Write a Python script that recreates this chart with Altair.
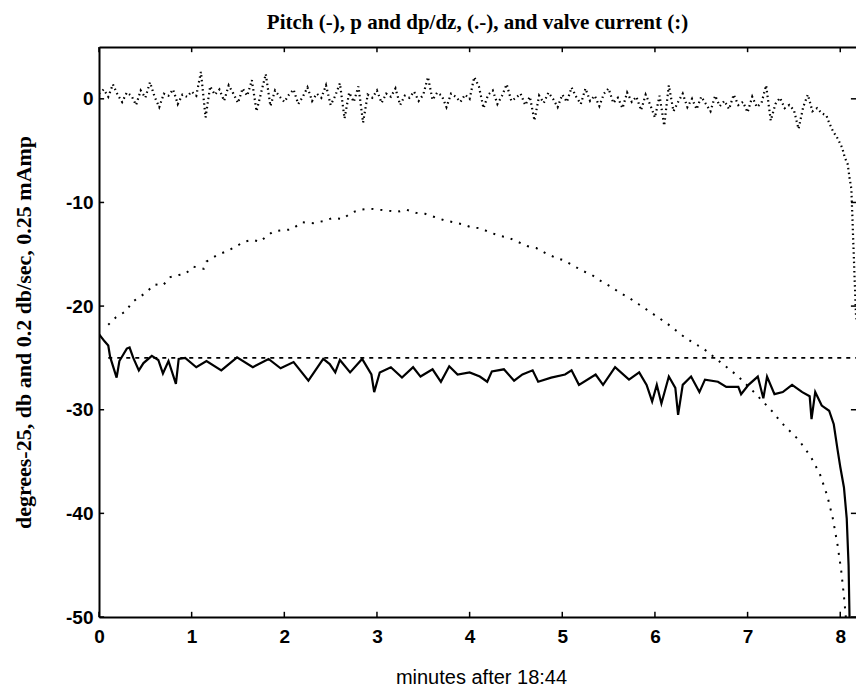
import altair as alt
import pandas as pd

# ---- Pitch (-): degrees - 25 ----
pitch_x = [0.00, 0.06, 0.10, 0.12, 0.19, 0.22, 0.30, 0.33, 0.37, 0.43, 0.48, 0.57, 0.64, 0.69,
           0.75, 0.83, 0.86, 0.93, 1.05, 1.16, 1.32, 1.49, 1.66, 1.83, 1.96, 2.10, 2.26, 2.42,
           2.49, 2.55, 2.60, 2.71, 2.84, 2.94, 2.97, 3.03, 3.15, 3.27, 3.39, 3.47, 3.60, 3.69,
           3.78, 3.87, 4.00, 4.11, 4.19, 4.24, 4.37, 4.48, 4.57, 4.68, 4.74, 4.88, 5.03, 5.10,
           5.18, 5.36, 5.44, 5.57, 5.72, 5.83, 5.91, 5.97, 6.02, 6.07, 6.15, 6.22, 6.25, 6.30,
           6.39, 6.48, 6.54, 6.68, 6.77, 6.90, 6.93, 7.01, 7.11, 7.17, 7.21, 7.29, 7.38, 7.48,
           7.59, 7.67, 7.69, 7.73, 7.80, 7.88, 7.93, 7.97, 8.00, 8.04, 8.07, 8.09, 8.10]
pitch_y = [-22.7, -23.4, -23.8, -24.9, -26.9, -25.3, -24.1, -24.0, -25.0, -26.2, -25.5, -24.8, -25.2, -26.5,
           -25.3, -27.5, -25.1, -25.0, -25.9, -25.3, -26.2, -24.95, -25.9, -25.1, -26.0, -25.4, -27.2, -25.1,
           -25.6, -26.4, -25.2, -26.4, -25.1, -26.6, -28.3, -26.4, -25.9, -26.9, -25.9, -26.8, -26.1, -27.3,
           -25.8, -26.6, -26.4, -26.8, -27.3, -26.3, -26.1, -27.2, -26.6, -26.2, -27.3, -26.9, -26.6, -26.2,
           -27.6, -26.6, -27.6, -25.9, -27.1, -26.4, -27.6, -29.2, -27.6, -29.4, -26.8, -27.9, -30.5, -27.6,
           -26.8, -28.3, -27.1, -27.3, -27.8, -27.8, -28.5, -27.6, -26.8, -28.9, -26.8, -28.5, -28.3, -27.6,
           -28.3, -28.7, -30.9, -28.3, -29.6, -30.1, -31.4, -33.8, -35.5, -37.5, -40.5, -45.0, -50.0]

# ---- p (db), drawn (.-) ----
p_x = [0.10, 0.18, 0.29, 0.36, 0.46, 0.53, 0.60, 0.69, 0.77, 0.86, 0.93, 1.02, 1.13, 1.16, 1.27,
       1.38, 1.47, 1.56, 1.66, 1.74, 1.79, 1.88, 1.97, 2.08, 2.19, 2.31, 2.42, 2.52, 2.63, 2.72,
       2.82, 2.92, 3.02, 3.12, 3.22, 3.32, 3.42, 3.52, 3.62, 3.72, 3.82, 3.92, 4.02, 4.12, 4.22,
       4.32, 4.42, 4.52, 4.62, 4.72, 4.82, 4.92, 5.02, 5.12, 5.22, 5.32, 5.42, 5.52, 5.62, 5.72,
       5.82, 5.92, 6.02, 6.12, 6.22, 6.32, 6.44, 6.51, 6.62, 6.79, 6.90, 7.08, 7.27, 7.36, 7.45,
       7.55, 7.68, 7.78, 7.86, 7.92, 7.97, 8.01, 8.04, 8.06]
p_y = [-21.8, -21.1, -20.5, -19.6, -19.0, -18.5, -17.9, -18.0, -17.2, -17.0, -16.9, -16.2, -16.4, -15.7, -15.1,
       -14.7, -14.3, -13.8, -13.6, -13.8, -13.4, -12.8, -12.7, -12.6, -11.9, -12.0, -11.8, -11.5, -11.6, -11.0,
       -10.7, -10.6, -10.7, -10.8, -10.9, -10.7, -11.0, -11.1, -11.4, -11.7, -11.9, -12.1, -12.4, -12.5, -12.9,
       -13.2, -13.4, -13.8, -14.2, -14.4, -14.9, -15.3, -15.6, -16.1, -16.6, -17.0, -17.6, -18.1, -18.7, -19.2,
       -19.8, -20.4, -21.0, -21.6, -22.3, -23.0, -23.7, -24.0, -24.8, -26.0, -26.8, -28.4, -30.2, -31.2, -32.0,
       -32.9, -34.5, -36.2, -38.3, -40.5, -43.0, -45.5, -48.0, -50.0]

# ---- dp/dz ----
dpdz_x = [0.10, 8.26]
dpdz_y = [-25.0, -25.0]

# ---- valve current (:) ----
valve_x = [0.00, 0.05, 0.10, 0.15, 0.20, 0.25, 0.30, 0.35, 0.40, 0.45, 0.50,
           0.55, 0.60, 0.65, 0.70, 0.75, 0.80, 0.85, 0.90, 0.95, 1.00,
           1.05, 1.10, 1.15, 1.20, 1.25, 1.30, 1.35, 1.40, 1.45, 1.50,
           1.55, 1.60, 1.65, 1.70, 1.75, 1.80, 1.85, 1.90, 1.95, 2.00,
           2.05, 2.10, 2.15, 2.20, 2.25, 2.30, 2.35, 2.40, 2.45, 2.50,
           2.55, 2.60, 2.65, 2.70, 2.75, 2.80, 2.85, 2.90, 2.95, 3.00,
           3.05, 3.10, 3.15, 3.20, 3.25, 3.30, 3.35, 3.40, 3.45, 3.50,
           3.55, 3.60, 3.65, 3.70, 3.75, 3.80, 3.85, 3.90, 3.95, 4.00,
           4.05, 4.10, 4.15, 4.20, 4.25, 4.30, 4.35, 4.40, 4.45, 4.50,
           4.55, 4.60, 4.65, 4.70, 4.75, 4.80, 4.85, 4.90, 4.95, 5.00,
           5.05, 5.10, 5.15, 5.20, 5.25, 5.30, 5.35, 5.40, 5.45, 5.50,
           5.55, 5.60, 5.65, 5.70, 5.75, 5.80, 5.85, 5.90, 5.95, 6.00,
           6.05, 6.10, 6.15, 6.20, 6.25, 6.30, 6.35, 6.40, 6.45, 6.50,
           6.55, 6.60, 6.65, 6.70, 6.75, 6.80, 6.85, 6.90, 6.95, 7.00,
           7.05, 7.10, 7.15, 7.20, 7.25, 7.30, 7.35, 7.40, 7.45, 7.50,
           7.55, 7.60, 7.65, 7.70, 7.75, 7.80,
           7.85, 7.88, 7.92, 7.97, 8.02, 8.05, 8.08, 8.10, 8.12, 8.125, 8.13,
           8.135, 8.14, 8.145, 8.15, 8.155, 8.16, 8.165, 8.17, 8.19, 8.22, 8.25]
valve_y = [0.5, 0.9, 0.2, 1.4, 0.4, -0.3, 0.6, 0.3, -0.6, 0.8, 0.1,
           1.6, 0.2, -0.8, 0.5, 0.3, 0.9, -0.5, 0.4, 0.2, 0.7,
           0.3, 2.6, -1.8, 1.2, 0.4, 0.9, -0.2, 1.3, 0.5, -0.4,
           1.0, 0.3, 1.8, -1.2, 0.6, 2.4, -0.7, 0.8, 0.2, -0.3,
           0.4, 0.9, -0.5, 0.2, 1.1, -0.2, 0.5, 0.1, 1.3, -0.6,
           0.3, 1.5, -1.9, 0.6, -0.3, 1.2, -2.3, 0.4, 0.1, 0.8,
           -0.4, 0.5, 0.2, 1.0, -0.6, 0.3, 0.1, 0.7, -0.2, 0.4,
           2.1, -0.1, 0.6, 0.3, -0.8, 0.5, 0.2, -0.3, 0.4, 0.0,
           2.1, 1.2, -0.9, 0.4, 0.8, -0.5, 0.3, 1.4, -0.2, 0.1,
           0.5, -0.6, 0.2, -2.1, 0.3, -0.4, 0.6, 0.0, -0.8, 0.4,
           -0.3, 1.1, 0.2, -0.5, 1.0, -0.2, 0.3, -0.7, 0.5, 1.0,
           -0.4, 0.1, -0.9, 0.6, -0.3, 0.2, -1.1, 0.4, -0.6, -1.8,
           0.3, -2.6, 1.3, -1.2, -0.3, 0.5, -0.8, 0.0, -1.0, 0.2,
           -0.5, -1.2, 0.3, -0.7, -0.2, -1.0, 0.4, -0.6, -0.3, -1.3,
           0.2, -0.8, -0.4, 1.3, -2.1, -0.5, 0.1, -0.9, -0.6, -1.1,
           -2.9, -0.8, 0.4, -1.2, -0.9, -1.4,
           -1.6, -2.3, -3.1, -3.8, -4.7, -5.7, -6.3, -7.6, -8.7, -10.0, -11.1,
           -12.4, -13.7, -14.8, -16.1, -17.4, -18.5, -19.8, -20.9, -22.1, -22.7, -24.5]

x_ticks = [0, 1, 2, 3, 4, 5, 6, 7, 8]
y_ticks = [-50, -40, -30, -20, -10, 0]

X_MIN, X_MAX = 0.0, 8.17
Y_MIN, Y_MAX = -50.0, 5.0

pitch_df = pd.DataFrame({"x": pitch_x, "y": pitch_y})
p_df = pd.DataFrame({"x": p_x, "y": p_y})
dpdz_df = pd.DataFrame({"x": dpdz_x, "y": dpdz_y})
valve_df = pd.DataFrame({"x": valve_x, "y": valve_y})

# inward tick marks (MATLAB-style frame)
bt_df = pd.DataFrame({"x": x_ticks, "y0": [Y_MIN] * len(x_ticks), "y1": [Y_MIN + 0.5] * len(x_ticks)})
tt_df = pd.DataFrame({"x": x_ticks, "y0": [Y_MAX] * len(x_ticks), "y1": [Y_MAX - 0.5] * len(x_ticks)})
lt_df = pd.DataFrame({"y": y_ticks, "x0": [X_MIN] * len(y_ticks), "x1": [X_MIN + 0.055] * len(y_ticks)})
rt_df = pd.DataFrame({"y": y_ticks, "x0": [X_MAX] * len(y_ticks), "x1": [X_MAX - 0.055] * len(y_ticks)})

xs = alt.Scale(domain=[X_MIN, X_MAX], nice=False, zero=False)
ys = alt.Scale(domain=[Y_MIN, Y_MAX], nice=False, zero=False)

LABEL_FONT = "Liberation Sans"
SERIF = "Liberation Serif"

x_axis = alt.Axis(
    orient="bottom", values=x_ticks, title="minutes after  18:44",
    domain=True, domainColor="black", domainWidth=2, ticks=False, grid=False,
    labelFont=LABEL_FONT, labelFontSize=19, labelFontWeight="bold", labelColor="black",
    labelPadding=10, labelFlush=False, labelOverlap=False, labelExpr="'' + datum.value",
    titleFont=LABEL_FONT, titleFontSize=20, titleFontWeight="normal", titleColor="black",
    titleX=382, titleY=66, titleBaseline="alphabetic",
)
y_axis = alt.Axis(
    orient="left", values=y_ticks, title="degrees-25, db and 0.2 db/sec, 0.25 mAmp",
    domain=True, domainColor="black", domainWidth=2, ticks=False, grid=False,
    labelFont=LABEL_FONT, labelFontSize=19, labelFontWeight="bold", labelColor="black",
    labelPadding=6, labelFlush=False, labelOverlap=False, labelExpr="'' + datum.value",
    titleFont=SERIF, titleFontSize=22, titleFontWeight="bold", titleColor="black",
    titleX=-76, titleY=285, titleAngle=270, titleAlign="center", titleBaseline="middle",
)
top_axis = alt.Axis(
    orient="top", labels=False, ticks=False, grid=False, title=None,
    domain=True, domainColor="black", domainWidth=2,
)

pitch = alt.Chart(pitch_df).mark_line(color="black", strokeWidth=2.2, clip=True).encode(
    x=alt.X("x:Q", scale=xs, axis=x_axis),
    y=alt.Y("y:Q", scale=ys, axis=y_axis),
)
dpdz = alt.Chart(dpdz_df).mark_line(color="black", strokeWidth=1.6, strokeDash=[4, 5], clip=True).encode(
    x=alt.X("x:Q", scale=xs, axis=top_axis),
    y=alt.Y("y:Q", scale=ys, axis=None),
)
p_line = alt.Chart(p_df).mark_line(color="black", strokeWidth=2, strokeDash=[2, 7], clip=True).encode(
    x=alt.X("x:Q", scale=xs, axis=None),
    y=alt.Y("y:Q", scale=ys, axis=None),
)
valve = alt.Chart(valve_df).mark_line(color="black", strokeWidth=2.2, strokeDash=[1.5, 3.2], clip=True).encode(
    x=alt.X("x:Q", scale=xs, axis=None),
    y=alt.Y("y:Q", scale=ys, axis=None),
)

def vticks(df):
    return alt.Chart(df).mark_rule(color="black", strokeWidth=1.5).encode(
        x=alt.X("x:Q", scale=xs, axis=None),
        y=alt.Y("y0:Q", scale=ys, axis=None),
        y2="y1:Q",
    )

def hticks(df):
    return alt.Chart(df).mark_rule(color="black", strokeWidth=1.5).encode(
        y=alt.Y("y:Q", scale=ys, axis=None),
        x=alt.X("x0:Q", scale=xs, axis=None),
        x2="x1:Q",
    )

chart = alt.layer(
    pitch, dpdz, p_line, valve, vticks(bt_df), vticks(tt_df), hticks(lt_df), hticks(rt_df)
).resolve_axis(x="independent", y="independent").properties(
    width=757, height=570,
    autosize=alt.AutoSizeParams(type="none"),
    padding={"left": 91, "top": 39, "right": 0, "bottom": 71},
    background="white",
    title=alt.TitleParams(
        text="Pitch (-), p and dp/dz, (.-), and valve current (:)",
        font=SERIF, fontSize=21, fontWeight="bold", color="black",
        anchor="middle", frame="group", offset=0, dy=4, baseline="alphabetic",
    ),
).configure_view(stroke=None)

chart.save("out.html", embed_options={"renderer": "svg", "actions": False})
